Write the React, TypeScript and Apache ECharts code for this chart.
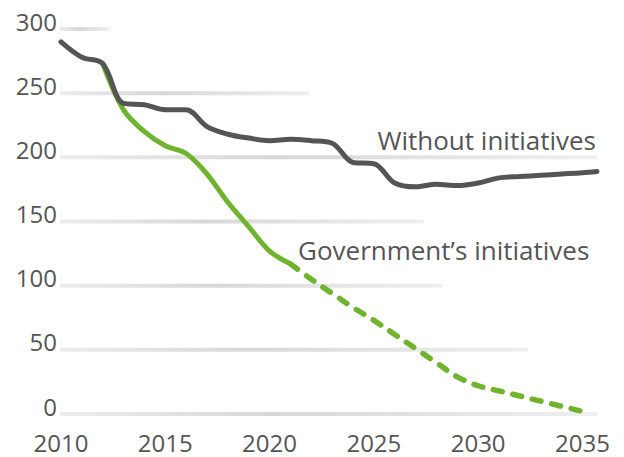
import React, { useEffect, useRef } from "react";
import * as echarts from "echarts";

// Years and values (index of emissions)
const withoutYears = [2010, 2011, 2012, 2013, 2014, 2015, 2016, 2017, 2018, 2019, 2020, 2021, 2022, 2023, 2024, 2025, 2026, 2027, 2028, 2029, 2030, 2031, 2032, 2033, 2034, 2035, 2035.7];
const withoutValues = [290, 278, 273, 242, 241, 237, 237, 224, 218, 215, 213, 214, 213, 211, 196, 195, 180, 177, 179, 178, 180, 184, 185, 186, 187, 188, 189];

const govSolidYears = [2012, 2013, 2014, 2015, 2016, 2017, 2018, 2019, 2020, 2021];
const govSolidValues = [273, 237, 220, 209, 203, 187, 165, 146, 127, 117];

const govPlanYears = [2021, 2022, 2023, 2024, 2025, 2026, 2027, 2028, 2029, 2030, 2031, 2032, 2033, 2034, 2035];
const govPlanValues = [117, 105, 94, 83, 73, 62, 51, 40, 29, 22, 18, 14, 10, 6, 2];

// Horizontal guide levels and the year each guide runs to
const gridLevels = [0, 50, 100, 150, 200, 250, 300];
const gridEnds = [2035.7, 2032.4, 2028.3, 2027.4, 2035.7, 2021.9, 2012.3];

const xTicks = [2010, 2015, 2020, 2025, 2030, 2035];

const FONT = "'Open Sans', 'Noto Sans', sans-serif";
const TEXT = "#555555";
const DARK = "#555555";
const GREEN = "#6fb32f";

const pairs = (xs: number[], ys: number[]) => xs.map((x, i) => [x, ys[i]]);

export default function App() {
  const ref = useRef<HTMLDivElement>(null);

  useEffect(() => {
    if (!ref.current) return;
    const chart = echarts.init(ref.current, null, { renderer: "svg" });
    const xMin = 2010;

    chart.setOption({
      animation: false,
      backgroundColor: "#ffffff",
      grid: { left: 61, right: 27, top: 29, bottom: 43, containLabel: false },
      xAxis: {
        type: "value",
        min: xMin,
        max: 2035.7,
        interval: 5,
        axisLine: { show: false },
        axisTick: { show: false },
        splitLine: { show: false },
        axisLabel: {
          margin: 16,
          fontSize: 24,
          fontFamily: FONT,
          color: TEXT,
          showMaxLabel: false,
          formatter: (v: number) => (xTicks.includes(v) ? String(v) : ""),
        },
      },
      yAxis: {
        type: "value",
        min: 0,
        max: 300,
        interval: 50,
        axisLine: { show: false },
        axisTick: { show: false },
        splitLine: { show: false },
        axisLabel: {
          margin: 4,
          fontSize: 24,
          fontFamily: FONT,
          color: TEXT,
          verticalAlign: "bottom",
          lineHeight: 16,
        },
      },
      series: [
        {
          type: "custom",
          z: 1,
          silent: true,
          encode: { x: 1, y: 0 },
          data: gridLevels.map((v, i) => [v, gridEnds[i]]),
          renderItem: (_params: any, api: any) => {
            const v = api.value(0);
            const start = api.coord([xMin, v]);
            const end = api.coord([api.value(1), v]);
            return {
              type: "rect",
              shape: { x: start[0] - 1, y: start[1] - 2, width: end[0] - start[0] + 1, height: 4 },
              style: {
                fill: new echarts.graphic.LinearGradient(0, 0, 1, 0, [
                  { offset: 0, color: "#ececec" },
                  { offset: 0.4, color: "#d8d8d8" },
                  { offset: 1, color: "#efefef" },
                ]),
              },
            };
          },
        },
        {
          type: "line",
          name: "Government's initiatives",
          z: 2,
          data: pairs(govSolidYears, govSolidValues),
          smooth: 0.35,
          showSymbol: false,
          lineStyle: { color: GREEN, width: 5, cap: "round", join: "round" },
        },
        {
          type: "line",
          name: "Government's initiatives (planned)",
          z: 2,
          data: pairs(govPlanYears, govPlanValues),
          smooth: 0.35,
          showSymbol: false,
          lineStyle: { color: GREEN, width: 5.5, type: [9, 11], cap: "round", join: "round" },
        },
        {
          type: "line",
          name: "Without initiatives",
          z: 3,
          data: pairs(withoutYears, withoutValues),
          smooth: 0.35,
          showSymbol: false,
          lineStyle: { color: DARK, width: 5, cap: "round", join: "round" },
        },
      ],
      graphic: [
        {
          type: "text",
          x: 596,
          y: 140,
          style: {
            text: "Without initiatives",
            fill: TEXT,
            font: `26px ${FONT}`,
            align: "right",
            verticalAlign: "middle",
          },
        },
        {
          type: "text",
          x: 298,
          y: 250,
          style: {
            text: "Government\u2019s initiatives",
            fill: TEXT,
            font: `26px ${FONT}`,
            align: "left",
            verticalAlign: "middle",
          },
        },
      ],
    });

    return () => chart.dispose();
  }, []);

  return (
    <div
      ref={ref}
      style={{ position: "absolute", left: 0, top: 0, width: 624, height: 457 }}
    />
  );
}
